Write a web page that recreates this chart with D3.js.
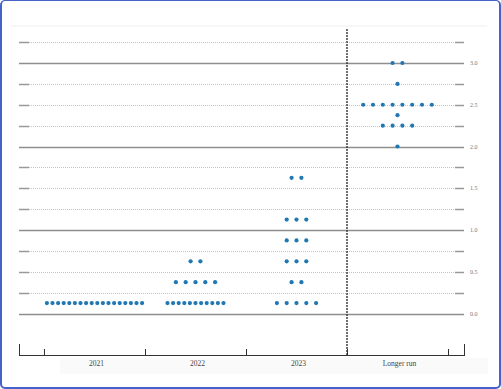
<!DOCTYPE html>
<html><head><meta charset="utf-8">
<script src="https://cdn.jsdelivr.net/npm/d3@7"></script>
<style>
html,body{margin:0;padding:0;background:#fff;}
#frame{position:absolute;left:0;top:0;width:501px;height:389px;box-sizing:border-box;border:2px solid #4462c9;border-top-width:1.5px;border-radius:5px;overflow:hidden;}
svg{position:absolute;left:0;top:0;}
</style></head><body>
<div id="frame"></div>
<svg id="chart" width="501" height="389"></svg>
<script>
const categories = ["2021", "2022", "2023", "Longer run"];
// [midpoint of target range, number of participants]
const dots2021 = [[0.125, 18]];
const dots2022 = [[0.125, 11], [0.375, 5], [0.625, 2]];
const dots2023 = [[0.125, 5], [0.375, 2], [0.625, 3], [0.875, 3], [1.125, 3], [1.625, 2]];
const dotsLonger = [[2.0, 1], [2.25, 4], [2.375, 1], [2.5, 8], [2.75, 1], [3.0, 2]];
const gridValues = [0, 0.25, 0.5, 0.75, 1, 1.25, 1.5, 1.75, 2, 2.25, 2.5, 2.75, 3, 3.25];
const tickLabels = ["0.0", "0.5", "1.0", "1.5", "2.0", "2.5", "3.0"];

const dotSets = [dots2021, dots2022, dots2023, dotsLonger];
const svg = d3.select("#chart");
const x = d3.scaleBand().domain(categories).range([44, 448]).padding(0);
const y = d3.scaleLinear().domain([0, 3]).range([313.5, 63]);
const axisLeft = 19, axisRight = 464;

// faint top line
svg.append("line").attr("x1", 11).attr("x2", 487).attr("y1", 26).attr("y2", 26)
  .attr("stroke", "#eeeeee").attr("stroke-width", 1);

// faint band behind labels
svg.append("rect").attr("x", 60).attr("y", 358).attr("width", 428).attr("height", 16)
  .attr("fill", "#fafafa");

// grid
gridValues.forEach(v => {
  const yy = Math.round(y(v)) + 0.5;
  if (Number.isInteger(v)) {
    svg.append("line").attr("x1", axisLeft).attr("x2", axisRight).attr("y1", yy).attr("y2", yy)
      .attr("stroke", "#8f8f8f").attr("stroke-width", 1.3);
  } else {
    svg.append("line").attr("x1", 29).attr("x2", 455).attr("y1", yy).attr("y2", yy)
      .attr("stroke", "#c4c4c4").attr("stroke-width", 1).attr("stroke-dasharray", "1,1");
    svg.append("line").attr("x1", axisLeft).attr("x2", 29).attr("y1", yy).attr("y2", yy)
      .attr("stroke", "#999").attr("stroke-width", 1.5);
    svg.append("line").attr("x1", 455).attr("x2", axisRight).attr("y1", yy).attr("y2", yy)
      .attr("stroke", "#999").attr("stroke-width", 1.5);
  }
});

// y labels
tickLabels.forEach(t => {
  svg.append("text").attr("x", 470).attr("y", y(+t) + 2)
    .attr("font-family", "Liberation Serif, serif").attr("font-size", 6)
    .attr("fill", "#777").text(t);
});

// dashed separator
const sepX = x("Longer run");
svg.append("line").attr("x1", sepX).attr("x2", sepX).attr("y1", 29).attr("y2", 355)
  .attr("stroke", "#333").attr("stroke-width", 1.4).attr("stroke-dasharray", "2,1");

// x axis
svg.append("line").attr("x1", axisLeft).attr("x2", axisRight).attr("y1", 355.5).attr("y2", 355.5)
  .attr("stroke", "#333").attr("stroke-width", 1);
[axisLeft, axisRight].forEach(xx => {
  svg.append("line").attr("x1", xx + 0.5).attr("x2", xx + 0.5).attr("y1", 344).attr("y2", 356)
    .attr("stroke", "#333").attr("stroke-width", 1);
});
const bounds = categories.map(c => x(c)).concat([x.range()[1]]);
bounds.forEach(xx => {
  svg.append("line").attr("x1", xx + 0.5).attr("x2", xx + 0.5).attr("y1", 349).attr("y2", 356)
    .attr("stroke", "#333").attr("stroke-width", 1);
});
categories.forEach(c => {
  svg.append("text").attr("x", x(c) + x.bandwidth() / 2 + 2).attr("y", 366)
    .attr("text-anchor", "middle")
    .attr("font-family", "Liberation Serif, serif").attr("font-size", 7.5)
    .attr("fill", "#444").text(c);
});

// dots
const color = "#1f77b4";
categories.forEach((c, i) => {
  const cx = x(c) + x.bandwidth() / 2;
  dotSets[i].forEach(([rate, count]) => {
    const step = count >= 10 ? 5.6 : 9.8;
    for (let k = 0; k < count; k++) {
      const px = cx + (k - (count - 1) / 2) * step;
      svg.append("circle").attr("cx", px).attr("cy", y(rate)).attr("r", 2.1)
        .attr("fill", color);
    }
  });
});
</script>
</body></html>
